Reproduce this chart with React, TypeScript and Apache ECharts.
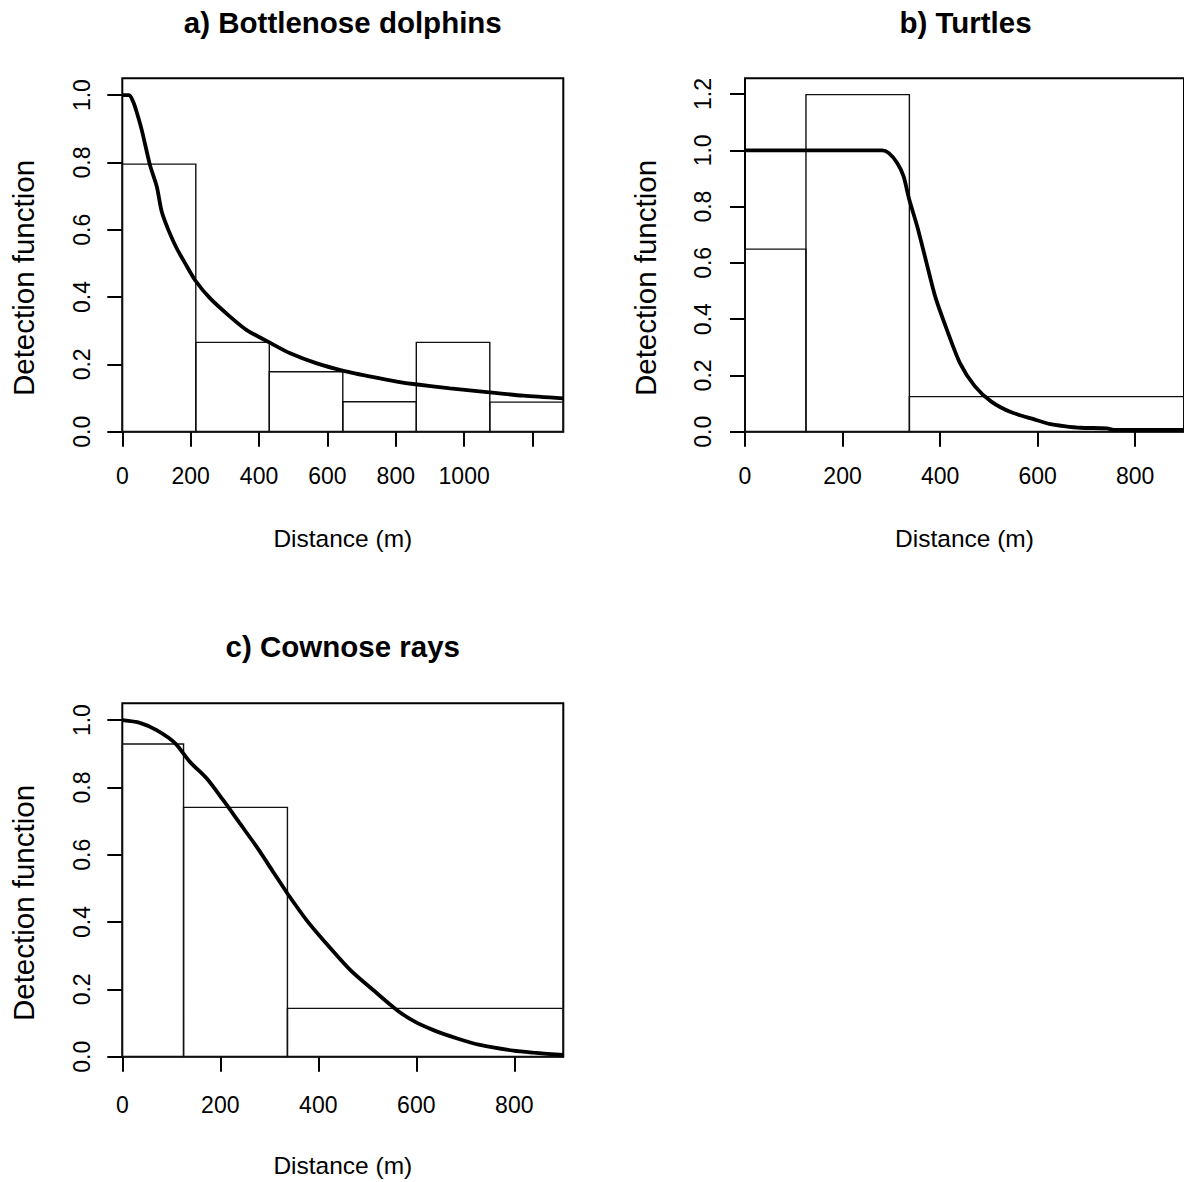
import React, { useEffect, useRef } from "react";
import * as echarts from "echarts";

const FONT = "'Liberation Sans', Arial, Helvetica, sans-serif";

// ---- tick values / labels ----
const xTicksDolphin = [0, 200, 400, 600, 800, 1000, 1200];
const xLabelsDolphin = [0, 200, 400, 600, 800, 1000];
const xTicksOther = [0, 200, 400, 600, 800];
const yTicksUnit = [0, 0.2, 0.4, 0.6, 0.8, 1.0];
const yTicksTurtle = [0, 0.2, 0.4, 0.6, 0.8, 1.0, 1.2];

// ---- panel titles ----
const panelTitles = ["a) Bottlenose dolphins", "b) Turtles", "c) Cownose rays"];
const xAxisTitle = "Distance (m)";
const yAxisTitle = "Detection function";

// ---- histogram bins (scaled) ----
const dolphinBinEdges = [0, 215, 430, 645, 860, 1075, 1290];
const dolphinBinHeights = [0.795, 0.2655, 0.178, 0.089, 0.2655, 0.088];
const turtleBinEdges = [0, 125, 337, 900];
const turtleBinHeights = [0.649, 1.198, 0.1245];
const rayBinEdges = [0, 125, 337, 900];
const rayBinHeights = [0.929, 0.7407, 0.1437];

// ---- fitted detection functions ----
const dolphinDist = [0, 20, 32, 42, 57, 81, 101, 115, 135, 159, 184, 213, 257, 315, 364, 429, 491, 569, 647, 735, 803, 857, 959, 1074, 1173, 1290];
const dolphinDet = [1.0, 1.0, 0.98, 0.95, 0.896, 0.792, 0.728, 0.655, 0.599, 0.545, 0.5, 0.45, 0.396, 0.342, 0.302, 0.266, 0.233, 0.203, 0.181, 0.162, 0.149, 0.141, 0.129, 0.117, 0.107, 0.099];
const turtleDist = [0, 281, 295, 312, 325, 336, 353, 370, 390, 414, 441, 471, 505, 546, 593, 624, 654, 688, 742, 756, 900];
const turtleDet = [1.0, 1.0, 0.99, 0.955, 0.908, 0.83, 0.73, 0.615, 0.48, 0.362, 0.243, 0.162, 0.107, 0.069, 0.044, 0.028, 0.02, 0.014, 0.012, 0.006, 0.006];
const rayDist = [0, 36, 70, 108, 138, 172, 206, 240, 274, 308, 337, 376, 410, 465, 512, 560, 597, 635, 682, 730, 798, 839, 900];
const rayDet = [1.0, 0.992, 0.97, 0.931, 0.876, 0.827, 0.762, 0.693, 0.624, 0.549, 0.485, 0.406, 0.347, 0.258, 0.198, 0.139, 0.104, 0.079, 0.055, 0.035, 0.018, 0.012, 0.005];

const zip = (a: number[], b: number[]) => a.map((v, i) => [v, b[i]]);
const bins = (edges: number[], h: number[]) => h.map((v, i) => [edges[i], edges[i + 1], v]);

export default function App() {
  const ref = useRef<HTMLDivElement>(null);
  useEffect(() => {
    document.body.style.margin = "0";
    const chart = echarts.init(ref.current!, null, { renderer: "svg" });

    const grids = [
      { left: 122.3, top: 78.3, width: 441, height: 353.4 },
      { left: 745, top: 78.3, width: 441, height: 353.4 },
      { left: 122.3, top: 703.3, width: 441, height: 353.4 },
    ].map((g) => ({ ...g, show: true, borderColor: "#000", borderWidth: 2, backgroundColor: "transparent" }));

    const makeX = (gi: number, max: number, ticks: number[], labels: number[], margin: number, nameGap: number) => ({
      type: "value",
      gridIndex: gi,
      min: 0,
      max,
      axisLine: { show: false },
      axisTick: { show: true, length: 15, lineStyle: { color: "#000", width: 2 }, customValues: ticks },
      axisLabel: { customValues: labels, margin, fontSize: 23, color: "#000", fontFamily: FONT, formatter: (v: number) => String(v) },
      splitLine: { show: false },
      name: xAxisTitle,
      nameLocation: "middle",
      nameGap,
      nameTextStyle: { fontSize: 24.5, color: "#000", fontFamily: FONT },
    });
    const makeY = (gi: number, max: number, ticks: number[], margin: number) => ({
      type: "value",
      gridIndex: gi,
      min: 0,
      max,
      axisLine: { show: false },
      axisTick: { show: true, length: 15, lineStyle: { color: "#000", width: 2 }, customValues: ticks },
      axisLabel: { customValues: ticks, rotate: 90, margin, fontSize: 23, color: "#000", fontFamily: FONT, formatter: (v: number) => v.toFixed(1) },
      splitLine: { show: false },
    });

    const binSeries = (gi: number, data: number[][]) => ({
      type: "custom",
      xAxisIndex: gi,
      yAxisIndex: gi,
      data,
      encode: { x: [0, 1], y: 2 },
      z: 2,
      renderItem: (_p: any, api: any) => {
        const p0 = api.coord([api.value(0), api.value(2)]);
        const p1 = api.coord([api.value(1), 0]);
        return {
          type: "rect",
          shape: { x: p0[0], y: p0[1], width: p1[0] - p0[0], height: p1[1] - p0[1] },
          style: { fill: "none", stroke: "#111", lineWidth: 1.4 },
        };
      },
    });
    const curveSeries = (gi: number, data: number[][]) => ({
      type: "line",
      xAxisIndex: gi,
      yAxisIndex: gi,
      data,
      symbol: "none",
      showSymbol: false,
      smooth: 0.25,
      z: 3,
      lineStyle: { color: "#000", width: 3.8 },
    });

    const titleCenters = [
      [342.8, 22.5],
      [965.5, 22.5],
      [342.8, 646.8],
    ];
    const yNamePos = [
      [23.3, 278],
      [645.5, 278],
      [23.3, 903],
    ];

    const graphic: any[] = [];
    panelTitles.forEach((t, i) => {
      graphic.push({
        type: "text",
        x: titleCenters[i][0],
        y: titleCenters[i][1],
        style: { text: t, fontSize: 29.5, fontWeight: "bold", fontFamily: FONT, fill: "#000", align: "center", verticalAlign: "middle" },
      });
      graphic.push({
        type: "text",
        x: yNamePos[i][0],
        y: yNamePos[i][1],
        rotation: Math.PI / 2,
        style: { text: yAxisTitle, fontSize: 29.5, fontFamily: FONT, fill: "#000", align: "center", verticalAlign: "middle" },
      });
    });

    chart.setOption({
      animation: false,
      backgroundColor: "#fff",
      grid: grids,
      xAxis: [
        makeX(0, 1290, xTicksDolphin, xLabelsDolphin, 33, 94),
        makeX(1, 900, xTicksOther, xTicksOther, 33, 94),
        makeX(2, 900, xTicksOther, xTicksOther, 37, 96),
      ],
      yAxis: [makeY(0, 1.05, yTicksUnit, 29), makeY(1, 1.256, yTicksTurtle, 31), makeY(2, 1.05, yTicksUnit, 29)],
      series: [
        binSeries(0, bins(dolphinBinEdges, dolphinBinHeights)),
        curveSeries(0, zip(dolphinDist, dolphinDet)),
        binSeries(1, bins(turtleBinEdges, turtleBinHeights)),
        curveSeries(1, zip(turtleDist, turtleDet)),
        binSeries(2, bins(rayBinEdges, rayBinHeights)),
        curveSeries(2, zip(rayDist, rayDet)),
      ],
      graphic,
    });
    return () => chart.dispose();
  }, []);
  return <div ref={ref} style={{ width: 1184, height: 1182 }} />;
}
